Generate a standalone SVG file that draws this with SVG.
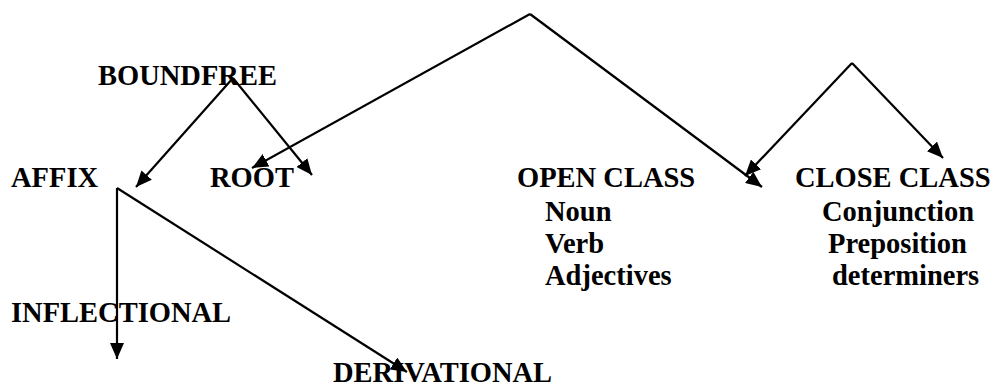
<svg xmlns="http://www.w3.org/2000/svg" width="997" height="390" viewBox="0 0 997 390">
<style>
text{font-family:"Liberation Serif","Times New Roman",serif;font-weight:bold;font-size:28.5px;fill:#000}
.c{fill:none;stroke:#000;stroke-width:2.2}
</style>
<defs>
<marker id="ah" markerUnits="userSpaceOnUse" markerWidth="16" markerHeight="14" refX="16" refY="7" orient="auto">
<path d="M0,0 L16,7 L0,14 z" fill="#000"/>
</marker>
</defs>
<rect width="997" height="390" fill="#fff"/>
<g id="connectors">
<path class="c" d="M233,78 L136,187" marker-end="url(#ah)"/>
<path class="c" d="M233,78 L312,175" marker-end="url(#ah)"/>
<path class="c" d="M530,14 L252,168" marker-end="url(#ah)"/>
<path class="c" d="M530,14 L762,187" marker-end="url(#ah)"/>
<path class="c" d="M852,63 L745,176" marker-end="url(#ah)"/>
<path class="c" d="M852,63 L943,158" marker-end="url(#ah)"/>
<path class="c" d="M117,188 L117,359" marker-end="url(#ah)"/>
<path class="c" d="M117,188 L407,372" marker-end="url(#ah)"/>
</g>
<g id="boundfree"><text x="98" y="85">BOUNDFREE</text></g>
<g id="affix"><text x="11" y="187">AFFIX</text></g>
<g id="root"><text x="210" y="187">ROOT</text></g>
<g id="open-class"><text x="517" y="187">OPEN CLASS</text>
<text x="545" y="221">Noun</text>
<text x="545" y="253">Verb</text>
<text x="545" y="285">Adjectives</text></g>
<g id="close-class"><text x="795" y="187">CLOSE CLASS</text>
<text x="822" y="221">Conjunction</text>
<text x="828" y="253">Preposition</text>
<text x="832" y="285">determiners</text></g>
<g id="inflectional"><text x="11" y="322">INFLECTIONAL</text></g>
<g id="derivational"><text x="333" y="382">DERIVATIONAL</text></g>
</svg>
